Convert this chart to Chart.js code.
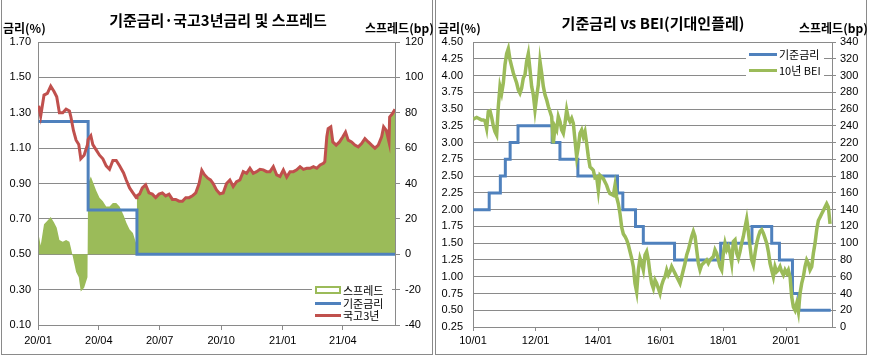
<!DOCTYPE html>
<html><head><meta charset="utf-8">
<script src="https://cdn.jsdelivr.net/npm/chart.js@4.4.0/dist/chart.umd.min.js"></script>
<style>
html,body{margin:0;padding:0;background:#fff;}
body{width:869px;height:357px;overflow:hidden;position:relative;font-family:'Noto Sans CJK KR','Noto Sans',sans-serif;color:#000;}
.box{position:absolute;border:1px solid #8a8a8a;box-sizing:border-box;}
.t{position:absolute;white-space:nowrap;color:#000;}
.title{font-size:15px;font-weight:bold;height:20px;line-height:20px;text-align:center;}
.unit{font-size:12px;font-weight:bold;height:16px;line-height:16px;}
.lg{font-size:11px;height:14px;line-height:14px;}
.sym{position:absolute;box-sizing:border-box;}
canvas{position:absolute;}
</style></head>
<body>
<div class="box" style="left:1px;top:-1px;width:432px;height:356px"></div>
<div class="box" style="left:435px;top:-1px;width:432px;height:356px"></div>

<canvas id="c1" width="432" height="354" style="left:0;top:0;width:432px;height:354px"></canvas>
<canvas id="c2" width="431" height="354" style="left:435px;top:0;width:431px;height:354px"></canvas>

<div class="t title" style="left:2px;top:10px;width:432px">기준금리·국고3년금리 및 스프레드</div>
<div class="t unit" style="left:3px;top:20px">금리(%)</div>
<div class="t unit" style="left:365px;top:20px">스프레드(bp)</div>

<div class="t title" style="left:437px;top:13px;width:432px">기준금리 vs BEI(기대인플레)</div>
<div class="t unit" style="left:438px;top:20px">금리(%)</div>
<div class="t unit" style="left:799px;top:20px">스프레드(bp)</div>

<!-- legend left -->
<div class="sym" style="left:312px;top:283px;width:80px;height:40px;background:#fff"></div>
<div class="sym" style="left:315px;top:286px;width:26px;height:8px;border:2px solid #9BBB59;background:#fff"></div>
<div class="t lg" style="left:343px;top:283px">스프레드</div>
<div class="sym" style="left:315px;top:302px;width:26px;height:3px;background:#4F81BD"></div>
<div class="t lg" style="left:343px;top:296px">기준금리</div>
<div class="sym" style="left:315px;top:314px;width:26px;height:3px;background:#C0504D"></div>
<div class="t lg" style="left:343px;top:308px">국고3년</div>

<!-- legend right -->
<div class="sym" style="left:746px;top:47px;width:78px;height:31px;background:#fff"></div>
<div class="sym" style="left:749px;top:53px;width:28px;height:3px;background:#4F81BD"></div>
<div class="t lg" style="left:779px;top:47px">기준금리</div>
<div class="sym" style="left:749px;top:69px;width:28px;height:3px;background:#9BBB59"></div>
<div class="t lg" style="left:779px;top:63px">10년 BEI</div>

<script>
// ---------- Left chart data ----------
const leftDates = ['2020-01-02','2020-01-05','2020-01-10','2020-01-15','2020-01-20','2020-01-25','2020-01-29','2020-02-02','2020-02-07','2020-02-12',
'2020-02-17','2020-02-19','2020-02-23','2020-02-27','2020-03-02','2020-03-05','2020-03-10','2020-03-15','2020-03-16','2020-03-20',
'2020-03-23','2020-03-28','2020-04-02','2020-04-07','2020-04-12','2020-04-17','2020-04-22','2020-04-27','2020-05-02','2020-05-08',
'2020-05-12','2020-05-17','2020-05-22','2020-05-27','2020-05-28','2020-06-01','2020-06-05','2020-06-10','2020-06-15','2020-06-20',
'2020-06-25','2020-06-30','2020-07-05','2020-07-10','2020-07-15','2020-07-20','2020-07-25','2020-07-30','2020-08-04','2020-08-09',
'2020-08-14','2020-08-19','2020-08-24','2020-08-29','2020-09-02','2020-09-06','2020-09-11','2020-09-15','2020-09-19','2020-09-24',
'2020-09-29','2020-10-04','2020-10-09','2020-10-14','2020-10-19','2020-10-24','2020-10-29','2020-11-03','2020-11-08','2020-11-13',
'2020-11-18','2020-11-23','2020-11-28','2020-12-03','2020-12-08','2020-12-13','2020-12-18','2020-12-23','2020-12-28','2021-01-02',
'2021-01-07','2021-01-12','2021-01-17','2021-01-22','2021-01-27','2021-02-01','2021-02-06','2021-02-11','2021-02-16','2021-02-21',
'2021-02-26','2021-03-03','2021-03-05','2021-03-08','2021-03-10','2021-03-14','2021-03-17','2021-03-22','2021-03-27','2021-04-01',
'2021-04-05','2021-04-09','2021-04-14','2021-04-19','2021-04-24','2021-04-29','2021-05-04','2021-05-09','2021-05-14','2021-05-19',
'2021-05-24','2021-05-29','2021-06-01','2021-06-05','2021-06-09','2021-06-10','2021-06-14','2021-06-18'];

const ktb3y = [1.34,1.28,1.40,1.41,1.45,1.42,1.39,1.30,1.30,1.32,
1.31,1.28,1.20,1.145,1.12,1.04,1.06,1.12,1.15,1.17,
1.12,1.09,1.06,1.04,1.00,0.98,1.03,1.03,1.00,0.96,
0.92,0.875,0.847,0.82,0.83,0.84,0.875,0.893,0.847,0.84,
0.82,0.84,0.847,0.83,0.84,0.81,0.81,0.80,0.80,0.82,
0.82,0.83,0.847,0.90,0.975,0.95,0.93,0.92,0.90,0.864,
0.842,0.846,0.90,0.92,0.883,0.91,0.92,0.967,0.958,0.986,
0.958,0.967,0.98,0.977,0.967,0.967,0.995,0.949,0.94,0.977,
0.936,0.967,0.967,0.977,0.995,0.98,0.986,0.986,0.995,0.986,
1.005,1.014,1.023,1.164,1.21,1.22,1.135,1.117,1.135,1.164,
1.19,1.145,1.135,1.117,1.107,1.126,1.154,1.135,1.117,1.10,
1.117,1.164,1.22,1.20,1.135,1.276,1.294,1.32];

const spreadBp = [11,5,17,19,21,18,15,8,7,8,
7,4,-3,-10,-13,-21,-19,-13,40,44,
41,36,32,30,27,27,29,29,27,22,
18,14,12,6,33,34,37,39,35,34,
32,34,35,33,34,31,31,30,30,32,
32,33,35,40,47,45,43,42,40,36,
34,35,40,42,38,41,42,47,46,49,
46,47,48,48,47,47,50,45,44,48,
44,47,47,48,50,48,49,49,50,49,
51,51,52,66,71,72,64,62,64,66,
69,65,64,62,61,63,65,64,62,60,
62,66,72,70,64,78,79,82];

const leftRateDates = ['2020-01-02','2020-03-16','2020-05-28','2021-06-18'];
const leftRateValues = [1.25,0.75,0.50,0.50];

const leftTickDates = ['2020-01-01','2020-04-01','2020-07-01','2020-10-01','2021-01-01','2021-04-01'];
const leftTickLabels = ['20/01','20/04','20/07','20/10','21/01','21/04'];

// ---------- Right chart data ----------
const beiStartYear = 2010.01;   // first sample of the BEI series
const beiStepYears = 0.05325;   // sampling interval of the series
const beiBp = [
248,249,250,249,248,247,247,246,237,257,
258,250,240,233,229,263,287,279,291,313,
326,332,319,311,303,297,291,283,279,285,
297,301,317,326,307,287,277,259,275,289,
317,303,287,277,271,263,257,251,219,239,
235,251,245,235,231,243,259,249,245,249,
243,223,203,215,231,235,227,233,219,203,
191,189,187,
178,179,163,181,179,177,173,169,163,159,
158,157,169,155,147,135,119,111,108,104,
98,90,82,72,52,42,68,82,76,68,
86,90,80,64,52,46,56,52,46,40,
50,56,60,68,62,66,72,68,64,60,
56,52,60,68,76,86,92,100,108,114,
108,92,76,68,74,76,78,80,76,80,
82,84,92,88,80,72,68,88,100,92,
96,88,76,102,104,88,82,90,100,108,
119,129,114,96,80,74,88,100,108,114,
116,112,106,100,90,76,68,60,72,66,
68,72,66,62,68,64,68,60,36,24,
20,28,18,40,52,60,72,80,76,68,
72,88,100,116,127,131,135,139,143,147,
143,123];

const rightRateDates = ['2010-01-01','2010-07-09','2010-11-16','2011-01-13','2011-03-10','2011-06-10','2012-07-12','2012-10-11','2013-05-09','2014-08-14',
'2014-10-15','2015-03-12','2015-06-11','2016-06-09','2017-11-30','2018-11-30','2019-07-18','2019-10-16','2020-03-16','2020-05-28','2021-06-07'];
const rightRateValues = [2.00,2.25,2.50,2.75,3.00,3.25,3.00,2.75,2.50,2.25,
2.00,1.75,1.50,1.25,1.50,1.75,1.50,1.25,0.75,0.50,0.50];

const rightTickDates = ['2010-01-01','2012-01-01','2014-01-01','2016-01-01','2018-01-01','2020-01-01'];
const rightTickLabels = ['10/01','12/01','14/01','16/01','18/01','20/01'];
const rightEndDate = '2021-06-21';

// ---------- helpers ----------
function utc(s){ return Date.UTC(+s.slice(0,4), +s.slice(5,7)-1, +s.slice(8,10)); }
function dayOf(s){ return (utc(s) - Date.UTC(2020,0,1)) / 86400000; }
function yearOf(s){ const y = +s.slice(0,4); return y + (utc(s) - Date.UTC(y,0,1)) / 86400000 / 365.25; }

const GRID = '#8a8a8a';
Chart.defaults.font.family = "'Liberation Sans', Arial, sans-serif";
Chart.defaults.font.size = 11;
Chart.defaults.color = '#000';

// ---------- Left chart ----------
new Chart(document.getElementById('c1'), {
  type: 'line',
  data: { datasets: [
    { label:'국고3년', data: leftDates.map((d,i)=>({x:dayOf(d), y:ktb3y[i]})), yAxisID:'y',
      borderColor:'#C0504D', borderWidth:3, pointRadius:0, tension:0, order:0 },
    { label:'기준금리', data: leftRateDates.map((d,i)=>({x:dayOf(d), y:leftRateValues[i]})), yAxisID:'y',
      borderColor:'#4F81BD', borderWidth:3, pointRadius:0, stepped:'before', order:1 },
    { label:'스프레드', data: leftDates.map((d,i)=>({x:dayOf(d), y:spreadBp[i]})), yAxisID:'y1',
      borderColor:'rgba(0,0,0,0)', borderWidth:0, backgroundColor:'#9BBB59', fill:'origin', pointRadius:0, order:2 }
  ]},
  options: {
    responsive:false, animation:false, events:[],
    layout:{ padding:{ top:42, left:0, right:0, bottom:0 } },
    plugins:{ legend:{display:false}, tooltip:{enabled:false} },
    scales:{
      x:{ type:'linear', min:0, max:dayOf('2021-06-18'),
          afterBuildTicks: s => { s.ticks = leftTickDates.map(d=>({value:dayOf(d)})); },
          afterFit: s => { s.height = 29; },
          ticks:{ autoSkip:false, maxRotation:0, padding:4, callback:(v,i)=>leftTickLabels[i] },
          grid:{ drawOnChartArea:false, drawTicks:true, tickLength:5, tickColor:GRID },
          border:{ color:GRID } },
      y:{ position:'left', min:0.1, max:1.7,
          ticks:{ stepSize:0.2, padding:7, callback:v=>(+v).toFixed(2) },
          grid:{ color:GRID, drawTicks:false }, border:{ color:GRID },
          afterFit: s => { s.width = 38; } },
      y1:{ position:'right', min:-40, max:120,
          ticks:{ stepSize:20, padding:5 },
          grid:{ drawOnChartArea:false, drawTicks:true, tickLength:5, tickColor:GRID }, border:{ color:GRID },
          afterFit: s => { s.width = 37; } }
    }
  }
});

// ---------- Right chart ----------
new Chart(document.getElementById('c2'), {
  type: 'line',
  data: { datasets: [
    { label:'10년 BEI', data: beiBp.map((v,i)=>({x:beiStartYear + i*beiStepYears, y:v})), yAxisID:'y1',
      borderColor:'#9BBB59', borderWidth:3.5, pointRadius:0, tension:0, order:0 },
    { label:'기준금리', data: rightRateDates.map((d,i)=>({x:yearOf(d), y:rightRateValues[i]})), yAxisID:'y',
      borderColor:'#4F81BD', borderWidth:3, pointRadius:0, stepped:'before', order:1 }
  ]},
  options: {
    responsive:false, animation:false, events:[],
    layout:{ padding:{ top:42, left:0, right:0, bottom:0 } },
    plugins:{ legend:{display:false}, tooltip:{enabled:false} },
    scales:{
      x:{ type:'linear', min:2010, max:yearOf(rightEndDate),
          afterBuildTicks: s => { s.ticks = rightTickDates.map(d=>({value:yearOf(d)})); },
          afterFit: s => { s.height = 27; },
          ticks:{ autoSkip:false, maxRotation:0, padding:3, callback:(v,i)=>rightTickLabels[i] },
          grid:{ drawOnChartArea:false, drawTicks:true, tickLength:4, tickColor:GRID },
          border:{ color:GRID } },
      y:{ position:'left', min:0.25, max:4.5,
          ticks:{ stepSize:0.25, padding:10, callback:v=>(+v).toFixed(2) },
          grid:{ color:GRID, drawTicks:false }, border:{ color:GRID },
          afterFit: s => { s.width = 38; } },
      y1:{ position:'right', min:0, max:340,
          ticks:{ stepSize:20, padding:4 },
          grid:{ drawOnChartArea:false, drawTicks:true, tickLength:4, tickColor:GRID }, border:{ color:GRID },
          afterFit: s => { s.width = 34; } }
    }
  }
});
</script>
</body></html>
